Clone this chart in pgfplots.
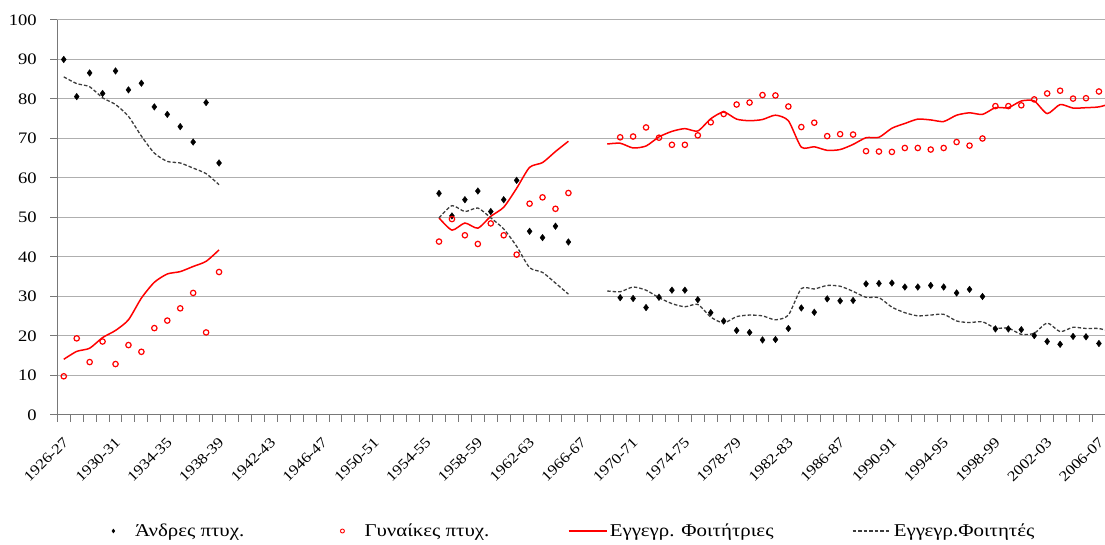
\documentclass[border=0pt]{standalone}
\usepackage{fontspec}
\setmainfont{Liberation Serif}[FakeStretch=1.16]
\usepackage{pgfplots}
\pgfplotsset{compat=1.18}
\usepackage{pgfplotstable}

\pgfplotstableread{
x men women fem mal
0 90.0 9.8 14.1 85.6
1 80.6 19.4 16.1 83.9
2 86.6 13.4 16.9 83.1
3 81.4 18.6 19.6 80.3
4 87.1 12.9 21.4 78.6
5 82.3 17.7 24.1 75.6
6 84.0 16.0 29.6 70.6
7 78.0 22.0 33.6 66.3
8 76.1 23.9 35.7 64.2
9 73.0 27.0 36.3 63.8
10 69.1 30.9 37.6 62.5
11 79.1 20.9 38.9 61.1
12 63.8 36.2 41.8 58.3
13 nan nan nan nan
28 nan nan nan nan
29 56.1 43.9 49.9 49.9
30 50.4 49.6 46.8 53.0
31 54.5 45.5 48.6 51.5
32 56.7 43.3 47.3 52.4
33 51.5 48.5 50.3 49.9
34 54.5 45.5 52.6 47.1
35 59.4 40.6 57.4 42.7
36 46.5 53.5 62.7 37.3
37 44.9 55.1 63.9 36.1
38 47.8 52.2 66.7 33.4
39 43.8 56.2 69.3 30.6
40 nan nan nan nan
41 nan nan nan nan
42 nan nan 68.6 31.4
43 29.7 70.3 68.8 31.2
44 29.5 70.5 67.6 32.4
45 27.2 72.8 68.1 31.6
46 29.8 70.2 70.4 29.7
47 31.6 68.4 71.8 28.2
48 31.6 68.4 72.5 27.4
49 29.2 70.8 71.9 28.0
50 25.9 74.1 75.0 24.8
51 23.8 76.2 76.7 23.3
52 21.4 78.6 74.9 24.9
53 20.9 79.1 74.5 25.3
54 19.0 81.0 74.8 25.1
55 19.1 80.9 75.9 24.1
56 21.9 78.1 74.5 25.3
57 27.1 72.9 67.8 32.0
58 26.0 74.0 67.9 31.9
59 29.4 70.6 67.0 32.8
60 28.9 71.1 67.2 32.6
61 29.0 71.0 68.5 31.3
62 33.2 66.8 70.2 29.8
63 33.3 66.7 70.3 29.7
64 33.4 66.6 72.6 27.3
65 32.4 67.6 73.8 25.9
66 32.4 67.6 74.9 25.1
67 32.8 67.2 74.7 25.3
68 32.4 67.6 74.3 25.5
69 30.9 69.1 75.9 23.8
70 31.8 68.2 76.5 23.4
71 30.0 70.0 76.1 23.6
72 21.8 78.2 77.8 22.0
73 21.8 78.2 77.8 22.0
74 21.6 78.4 79.5 20.4
75 20.1 79.9 79.5 20.7
76 18.6 81.4 76.3 23.3
77 17.9 82.1 78.6 21.1
78 19.9 80.1 77.7 22.2
79 19.8 80.2 77.8 21.9
80 18.1 81.9 78.0 21.9
81 nan nan 78.9 21.0
}\datatable

\definecolor{gridgray}{RGB}{175,175,175}
\definecolor{axisgray}{RGB}{120,120,120}
\definecolor{dashgray}{RGB}{60,60,60}

\begin{document}
\begin{tikzpicture}[x=1pt,y=1pt]
\useasboundingbox (0,0) rectangle (1105,545);
\begin{axis}[
  at={(57.3pt,130pt)}, anchor=south west,
  scale only axis, width=1048.1pt, height=395pt,
  xmin=-0.5, xmax=80.5, ymin=0, ymax=100,
  axis x line*=bottom, axis y line*=left,
  axis line style={-, draw=axisgray, line width=1pt},
  ytick={0,10,...,100},
  ymajorgrids, grid style={draw=gridgray, line width=1pt},
  xtick={-0.5,0.5,...,80.5}, xticklabels={,,},
  extra x ticks={0,4,...,80},
  extra x tick labels={1926-27,1930-31,1934-35,1938-39,1942-43,1946-47,1950-51,1954-55,1958-59,1962-63,1966-67,1970-71,1974-75,1978-79,1982-83,1986-87,1990-91,1994-95,1998-99,2002-03,2006-07},
  extra x tick style={major tick length=0pt},
  tick align=outside, major tick length=7pt,
  tick style={draw=axisgray, line width=1pt},
  xticklabel style={font=\fontsize{14.5}{14.5}\selectfont, xshift=3pt, yshift=-24pt, rotate=45, anchor=east, inner sep=1pt},
  yticklabel style={font=\fontsize{16}{16}\selectfont, xshift=-10pt},
  /pgf/number format/assume math mode=true,
  unbounded coords=jump,
  legend columns=4,
  legend style={at={(0.035,-0.2937)}, anchor=west, draw=none, fill=none, inner sep=0pt,
    font=\fontsize{18}{18}\selectfont,
    nodes={inner xsep=2.5pt, inner ysep=0pt},
    /tikz/every even column/.append style={column sep=76pt}},
]
\addplot[only marks, mark=diamond*, mark size=3.3pt, black,
  legend image code/.code={\path (0pt,0pt) (38pt,0pt); \draw[mark size=2pt] plot coordinates {(19pt,0pt)};}]
  table[x=x, y=men] {\datatable};
\addlegendentry{Άνδρες πτυχ.}
\addplot[only marks, mark=o, mark size=2.7pt, red, line width=1.2pt,
  legend image code/.code={\path (0pt,0pt) (38pt,0pt); \draw[mark size=2pt, line width=0.9pt] plot coordinates {(19pt,0pt)};}]
  table[x=x, y=women] {\datatable};
\addlegendentry{Γυναίκες πτυχ.}
\addplot[red, line width=1.5pt, no marks, smooth, tension=0.4,
  legend image code/.code={\draw (0pt,0pt) -- (38pt,0pt);}]
  table[x=x, y=fem] {\datatable};
\addlegendentry{Εγγεγρ. Φοιτήτριες}
\addplot[dashgray, line width=1.3pt, no marks, smooth, tension=0.4, dash pattern=on 3.5pt off 2pt,
  legend image code/.code={\draw (0pt,0pt) -- (38pt,0pt);}]
  table[x=x, y=mal] {\datatable};
\addlegendentry{Εγγεγρ.Φοιτητές}
\end{axis}
\end{tikzpicture}
\end{document}
